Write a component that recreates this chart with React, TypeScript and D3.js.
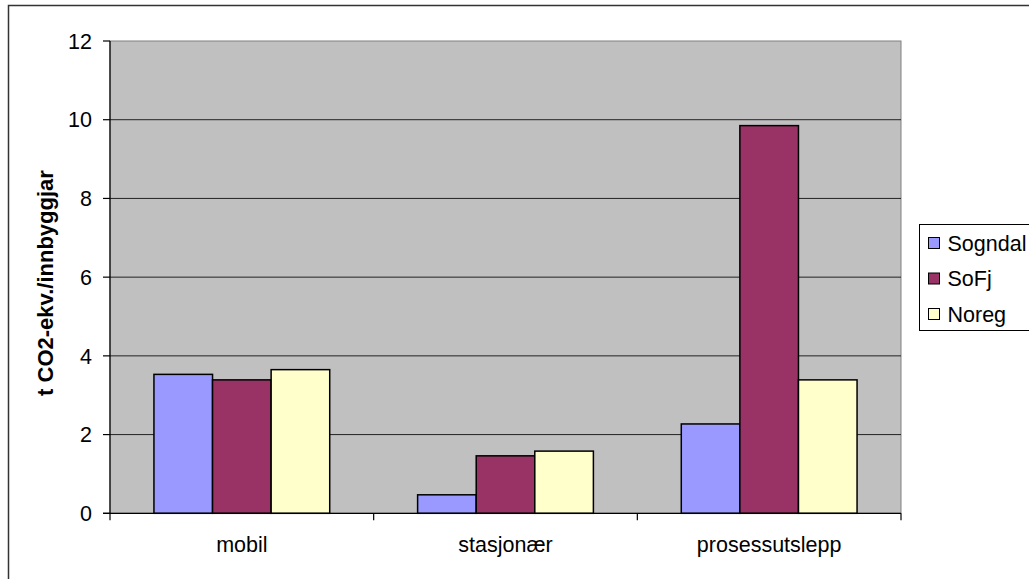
import React from "react";
import * as d3 from "d3";

const categories = ["mobil", "stasjonær", "prosessutslepp"];
const seriesNames = ["Sogndal", "SoFj", "Noreg"];
const sogndal = [3.53, 0.47, 2.27];
const sofj = [3.39, 1.46, 9.85];
const noreg = [3.65, 1.58, 3.39];
const yTicks = [0, 2, 4, 6, 8, 10, 12];
const colors = ["#9999FF", "#993366", "#FFFFCC"];
const yLabel = "t CO2-ekv./innbyggjar";

const W = 1029;
const H = 579;
const plot = { left: 110, right: 901, top: 41, bottom: 513.3 };
const FONT = "Liberation Sans, Arial, sans-serif";
const FS = 21.5;

export default function App() {
  const series = [sogndal, sofj, noreg];
  const x = d3.scaleBand<string>().domain(categories).range([plot.left, plot.right]).paddingInner(0).paddingOuter(0);
  const y = d3.scaleLinear().domain([0, 12]).range([plot.bottom, plot.top]);
  const inner = d3
    .scaleBand<string>()
    .domain(seriesNames)
    .range([0, x.bandwidth()])
    .paddingInner(0)
    .paddingOuter(0.75);

  return (
    <svg width={W} height={H} style={{ position: "absolute", left: 0, top: 0, display: "block" }} fontFamily={FONT}>
      <rect x={0} y={0} width={W} height={H} fill="#fff" />
      {/* outer frame (open right/bottom) */}
      <path d={`M8.5,${H + 2} V5.5 H${W + 2}`} fill="none" stroke="#333" strokeWidth={1.5} />
      {/* plot area */}
      <rect x={plot.left} y={plot.top} width={plot.right - plot.left} height={plot.bottom - plot.top} fill="#C0C0C0" stroke="#808080" strokeWidth={1} />
      {/* gridlines */}
      {yTicks.slice(1, -1).map((t) => (
        <line key={t} x1={plot.left} x2={plot.right} y1={y(t)} y2={y(t)} stroke="#222" strokeWidth={1} />
      ))}
      {/* bars */}
      {categories.map((c, ci) =>
        seriesNames.map((s, si) => {
          const v = series[si][ci];
          const bx = (x(c) as number) + (inner(s) as number);
          return (
            <rect
              key={c + s}
              x={bx}
              y={y(v)}
              width={inner.bandwidth()}
              height={y(0) - y(v)}
              fill={colors[si]}
              stroke="#000"
              strokeWidth={1.5}
            />
          );
        })
      )}
      {/* y axis */}
      <line x1={plot.left} x2={plot.left} y1={plot.top} y2={plot.bottom + 7} stroke="#000" strokeWidth={1.2} />
      {yTicks.map((t) => (
        <g key={t}>
          <line x1={plot.left - 7} x2={plot.left} y1={y(t)} y2={y(t)} stroke="#000" strokeWidth={1.2} />
          <text x={92} y={y(t)} dy="0.36em" textAnchor="end" fontSize={FS} fill="#000">
            {t}
          </text>
        </g>
      ))}
      {/* x axis */}
      <line x1={plot.left - 7} x2={plot.right} y1={plot.bottom} y2={plot.bottom} stroke="#000" strokeWidth={1.2} />
      {categories.map((c) => (
        <line key={"t" + c} x1={(x(c) as number) + x.bandwidth()} x2={(x(c) as number) + x.bandwidth()} y1={plot.bottom} y2={plot.bottom + 7} stroke="#000" strokeWidth={1.2} />
      ))}
      {categories.map((c) => (
        <text key={c} x={(x(c) as number) + x.bandwidth() / 2} y={551.5} textAnchor="middle" fontSize={FS} fill="#000">
          {c}
        </text>
      ))}
      {/* y label */}
      <text
        transform={`translate(53,283) rotate(-90)`}
        textAnchor="middle"
        fontSize={22}
        fontWeight="bold"
        fill="#000"
      >
        {yLabel}
      </text>
      {/* legend */}
      <rect x={919.5} y={224.5} width={130} height={106} fill="#fff" stroke="#000" strokeWidth={1} />
      {seriesNames.map((s, i) => (
        <g key={s} transform={`translate(0,${243 + i * 35.5})`}>
          <rect x={928.5} y={-5.5} width={11} height={11} fill={colors[i]} stroke="#000" strokeWidth={1} />
          <text x={947.5} y={0} dy="0.36em" fontSize={FS} fill="#000">
            {s}
          </text>
        </g>
      ))}
    </svg>
  );
}
